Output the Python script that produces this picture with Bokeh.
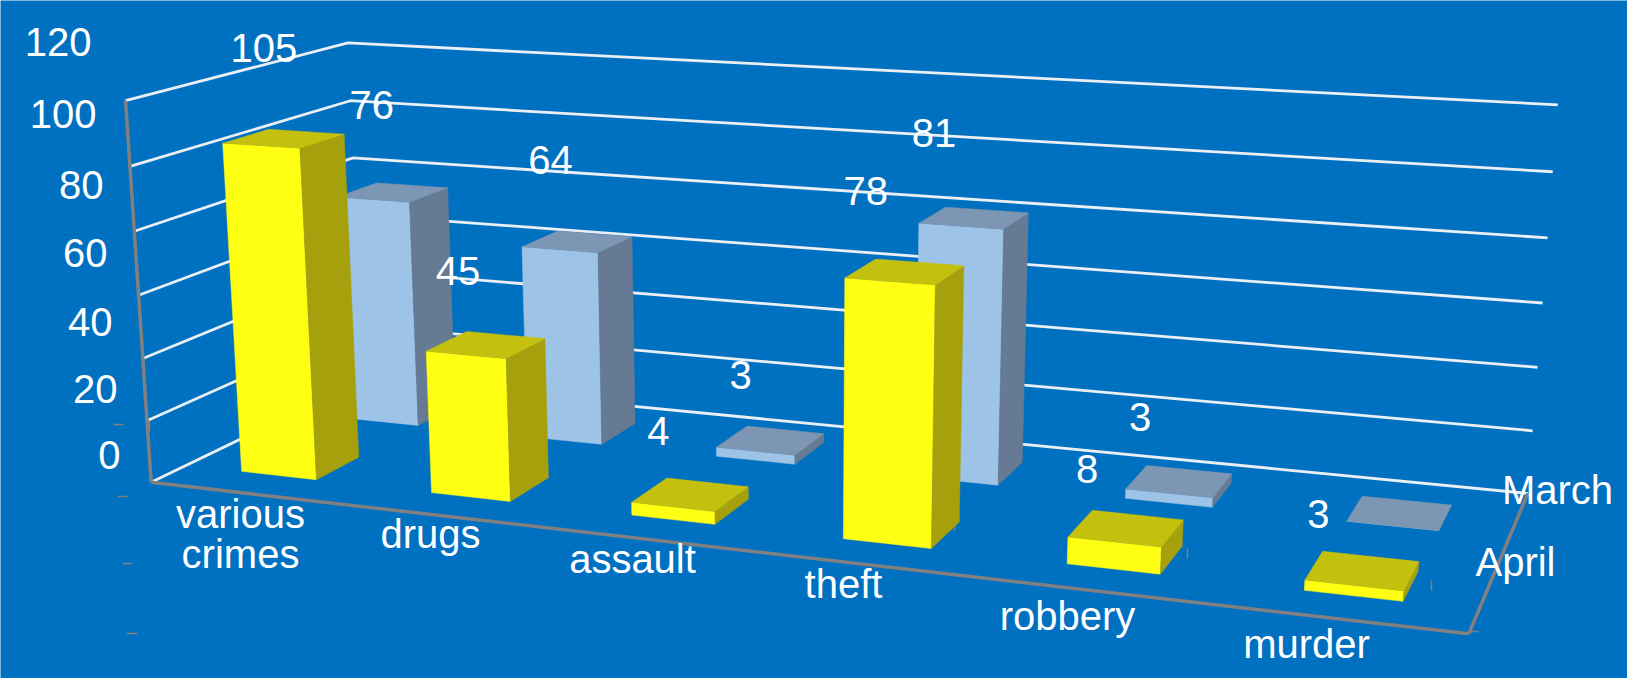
import numpy as np
from bokeh.core.properties import value
from bokeh.embed import file_html
from bokeh.models import Range1d
from bokeh.plotting import figure
from bokeh.resources import INLINE

# Chart data
categories = ["various\ncrimes", "drugs", "assault", "theft", "robbery", "murder"]
april = [105, 45, 4, 78, 8, 3]
march = [76, 64, 3, 81, 3, 0]
y_ticks = [0, 20, 40, 60, 80, 100, 120]
series_names = ["March", "April"]

# Colours
BG = "#0070C0"
GRID = "#E9EFF5"
AXIS = "#808080"
FONT = "Liberation Sans"
FACES = {
    "April": ("#FFFF14", "#A6A00C", "#C4C10E"),
    "March": ("#9DC3E6", "#667A94", "#7C96B3"),
}

# Calibration of the 3D box: (category axis 0-1, depth 0-1, value) -> page position
FRAME = [
    ((0, 0, 0), (152, 483)), ((0, 0, 60), (139, 295)), ((0, 0, 120), (123, 99)),
    ((1, 0, 0), (1468, 633)),
    ((0, 1, 0), (360, 378)), ((0, 1, 80), (354, 158)), ((0, 1, 120), (348, 43)),
    ((1, 1, 0), (1527, 493)), ((1, 1, 60), (1544, 303)), ((1, 1, 120), (1556, 104)),
]


def fit_camera(frame):
    rows, rhs = [], []
    for (u, v, h), (x, y) in frame:
        rows.append([u, v, h, 1, 0, 0, 0, 0, -x * u, -x * v, -x * h])
        rhs.append(x)
        rows.append([0, 0, 0, 0, u, v, h, 1, -y * u, -y * v, -y * h])
        rhs.append(y)
    sol = np.linalg.lstsq(np.array(rows, float), np.array(rhs, float), rcond=None)[0]
    return np.append(sol, 1.0).reshape(3, 4)


CAM = fit_camera(FRAME)


def project(u, v, h):
    x, y, w = CAM @ np.array([u, v, h, 1.0])
    return x / w, y / w


p = figure(
    width=1627, height=678, x_range=Range1d(0, 1627), y_range=Range1d(678, 0),
    output_backend="svg", toolbar_location=None, min_border=0,
    background_fill_color=BG, border_fill_color=BG, outline_line_color=None,
)
p.axis.visible = False
p.grid.visible = False

# Wall gridlines: front-left corner, back-left corner, far right end
for t in y_ticks:
    pts = [project(0, 0, t), project(0, 1, t), project(1, 1, t)]
    p.line([a for a, _ in pts], [b for _, b in pts], line_color=GRID, line_width=2.8)

# Frame edges
for a, b in [((0, 0, 0), (0, 0, 120)), ((0, 0, 0), (1, 0, 0)), ((1, 0, 0), (1, 1, 0))]:
    pa, pb = project(*a), project(*b)
    p.line([pa[0], pb[0]], [pa[1], pb[1]], line_color=AXIS, line_width=3.5)

# Small leftover tick marks around the frame
stubs = [
    ((113, 424), (123, 424)), ((117, 496), (127, 496)), ((122, 563), (132, 563)),
    ((126, 633), (137, 633)), ((1468, 631), (1478, 631)), ((149, 420), (149, 431)),
    ((335, 444), (335, 454)), ((530, 469), (530, 479)), ((736, 493), (736, 503)),
    ((954, 520), (954, 530)), ((1187, 548), (1187, 558)), ((1431, 580), (1431, 590)),
]
for a, b in stubs:
    p.line([a[0], b[0]], [a[1], b[1]], line_color=AXIS, line_width=1.5)

# Bar geometry in box units
N = len(categories)
BAR_U = 0.4 / N
BAR_V = {"March": (0.65, 0.85), "April": (0.15, 0.35)}


def draw_bar(i, name, val):
    front, side, top = FACES[name]
    v0, v1 = BAR_V[name]
    u0 = (i + 0.5) / N - BAR_U / 2
    u1 = u0 + BAR_U
    quads = [
        ([(u0, v0, 0), (u1, v0, 0), (u1, v0, val), (u0, v0, val)], front),
        ([(u1, v0, 0), (u1, v1, 0), (u1, v1, val), (u1, v0, val)], side),
        ([(u0, v0, val), (u1, v0, val), (u1, v1, val), (u0, v1, val)], top),
    ]
    for corners, col in quads:
        pts = [project(*c) for c in corners]
        p.patch([a for a, _ in pts], [b for _, b in pts], fill_color=col,
                line_color=col, line_width=0.5)


for i, val in enumerate(march):
    draw_bar(i, "March", val)
for i, val in enumerate(april):
    draw_bar(i, "April", val)


def label(x, y, s, align="center"):
    p.text([x], [y], text=[s], text_color="white", text_font=value(FONT),
           text_font_size="40px", text_align=align, text_baseline="middle")


# Value labels, offset from the centre of each bar's top
APRIL_OFFSETS = [(-20, -91), (-28, -74), (-32, -63), (-39, -81), (-39, -59), (-44, -57)]
MARCH_OFFSETS = [(-21, -87), (-27, -82), (-30, -65), (-40, -85), (-39, -64), (0, 0)]
for name, vals, offs in (("April", april, APRIL_OFFSETS), ("March", march, MARCH_OFFSETS)):
    v0, v1 = BAR_V[name]
    for i, (val, off) in enumerate(zip(vals, offs)):
        if val == 0:
            continue
        cx, cy = project((i + 0.5) / N, (v0 + v1) / 2, val)
        label(cx + off[0], cy + off[1], str(val))

# Value axis labels
TICK_RIGHT = [120, 117, 112, 107, 103, 96, 91]
TICK_Y = [454, 388, 321, 252, 184, 113, 41]
for t, rx, ty in zip(y_ticks, TICK_RIGHT, TICK_Y):
    label(rx, ty, str(t), "right")

# Category labels
CAT_X = [240, 430, 632, 843, 1067, 1306]
CAT_Y = [533, 533, 558, 583, 615, 643]
for name, cx, cy in zip(categories, CAT_X, CAT_Y):
    lines = name.split("\n")
    for k, line in enumerate(lines):
        label(cx, cy + (k - (len(lines) - 1) / 2) * 40, line)

# Depth axis labels
for name, cx, cy in zip(series_names, [1557, 1515], [489, 561]):
    label(cx, cy, name)

open("out.html", "w").write(file_html(p, INLINE))
